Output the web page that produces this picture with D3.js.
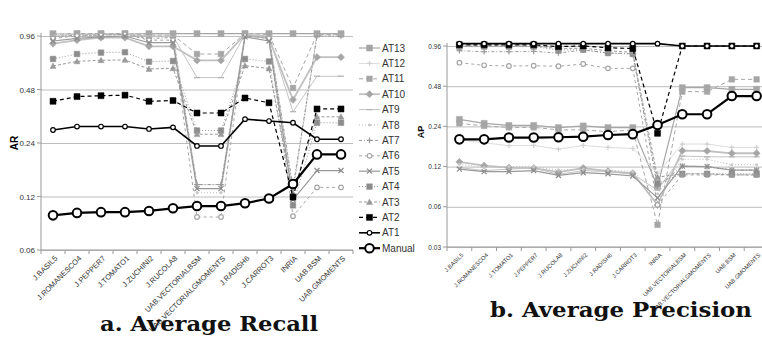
<!DOCTYPE html>
<html>
<head>
<meta charset="utf-8">
<script src="https://cdn.jsdelivr.net/npm/d3@7"></script>
<style>
  body { margin: 0; background: #fff; }
  svg { display: block; }
  text { font-family: "Liberation Sans", Arial, sans-serif; }
</style>
</head>
<body>
<svg id="chart" width="762" height="358"></svg>
<script>
// categories (the two panels use a different order)
const recallCats = ['J.BASIL5', 'J.ROMANESCO4', 'J.PEPPER7', 'J.TOMATO1', 'J.ZUCHINI2', 'J.RUCOLA8',
  'UAB.VECTORIALBSM', 'UAB.VECTORIALGMOMENTS', 'J.RADISH6', 'J.CARROT3', 'INRIA', 'UAB.BSM', 'UAB.GMOMENTS'];
const precisionCats = ['J.BASIL5', 'J.ROMANESCO4', 'J.TOMATO1', 'J.PEPPER7', 'J.RUCOLA8', 'J.ZUCHINI2',
  'J.RADISH6', 'J.CARROT3', 'INRIA', 'UAB.VECTORIALBSM', 'UAB.VECTORIALGMOMENTS', 'UAB.BSM', 'UAB.GMOMENTS'];

const seriesNames = ['AT13', 'AT12', 'AT11', 'AT10', 'AT9', 'AT8', 'AT7', 'AT6', 'AT5', 'AT4', 'AT3', 'AT2', 'AT1', 'Manual'];

const recallTicks = [0.06, 0.12, 0.24, 0.48, 0.96];
const precisionTicks = [0.03, 0.06, 0.12, 0.24, 0.48, 0.96];

// a. Average Recall
const arAT13 = [0.99, 0.99, 0.99, 0.99, 0.99, 0.99, 0.99, 0.99, 0.99, 0.99, 0.99, 0.99, 0.99];
const arAT12 = [0.99, 0.99, 0.99, 0.99, 0.98, 0.98, 0.14, 0.14, 0.99, 0.98, 0.13, 0.98, 0.98];
const arAT11 = [0.98, 0.99, 0.99, 0.99, 0.97, 0.97, 0.76, 0.76, 0.99, 0.98, 0.49, 0.98, 0.98];
const arAT10 = [0.87, 0.91, 0.94, 0.94, 0.84, 0.84, 0.70, 0.70, 0.98, 0.93, 0.42, 0.73, 0.73];
const arAT9 = [0.97, 0.98, 0.98, 0.98, 0.96, 0.96, 0.56, 0.56, 0.98, 0.96, 0.36, 0.57, 0.57];
const arAT8 = [0.96, 0.97, 0.98, 0.98, 0.95, 0.95, 0.126, 0.126, 0.97, 0.95, 0.125, 0.97, 0.97];
const arAT7 = [0.95, 0.97, 0.97, 0.98, 0.93, 0.94, 0.14, 0.14, 0.96, 0.94, 0.135, 0.96, 0.96];
const arAT6 = [0.93, 0.96, 0.97, 0.98, 0.91, 0.91, 0.092, 0.092, 0.96, 0.93, 0.093, 0.135, 0.135];
const arAT5 = [0.90, 0.93, 0.95, 0.96, 0.88, 0.88, 0.133, 0.133, 0.95, 0.90, 0.115, 0.168, 0.168];
const arAT4 = [0.713, 0.76, 0.774, 0.778, 0.688, 0.694, 0.282, 0.282, 0.713, 0.69, 0.107, 0.312, 0.312];
const arAT3 = [0.651, 0.691, 0.701, 0.704, 0.626, 0.632, 0.269, 0.269, 0.654, 0.63, 0.125, 0.337, 0.337];
const arAT2 = [0.412, 0.438, 0.443, 0.446, 0.412, 0.416, 0.354, 0.354, 0.43, 0.404, 0.119, 0.373, 0.373];
const arAT1 = [0.284, 0.297, 0.297, 0.297, 0.288, 0.294, 0.231, 0.231, 0.327, 0.319, 0.312, 0.252, 0.252];
const arManual = [0.094, 0.097, 0.098, 0.098, 0.0995, 0.103, 0.106, 0.106, 0.11, 0.117, 0.141, 0.207, 0.207];

// b. Average Precision
const apAT13 = [0.271, 0.253, 0.244, 0.244, 0.235, 0.242, 0.235, 0.235, 0.085, 0.468, 0.468, 0.455, 0.455];
const apAT12 = [0.19, 0.181, 0.172, 0.173, 0.162, 0.173, 0.167, 0.164, 0.107, 0.177, 0.177, 0.167, 0.167];
const apAT11 = [0.253, 0.242, 0.236, 0.236, 0.226, 0.226, 0.219, 0.226, 0.044, 0.437, 0.437, 0.54, 0.54];
const apAT10 = [0.13, 0.122, 0.118, 0.117, 0.109, 0.117, 0.111, 0.107, 0.062, 0.158, 0.157, 0.151, 0.151];
const apAT9 = [0.118, 0.112, 0.115, 0.117, 0.105, 0.112, 0.11, 0.105, 0.08, 0.144, 0.142, 0.142, 0.142];
const apAT8 = [0.125, 0.118, 0.12, 0.12, 0.113, 0.115, 0.113, 0.11, 0.075, 0.136, 0.136, 0.124, 0.124];
const apAT7 = [0.885, 0.87, 0.87, 0.875, 0.85, 0.896, 0.85, 0.84, 0.085, 0.121, 0.12, 0.113, 0.113];
const apAT6 = [0.72, 0.688, 0.68, 0.683, 0.677, 0.704, 0.653, 0.653, 0.062, 0.104, 0.104, 0.104, 0.104];
const apAT5 = [0.115, 0.11, 0.11, 0.112, 0.103, 0.108, 0.106, 0.102, 0.07, 0.121, 0.12, 0.113, 0.113];
const apAT4 = [0.95, 0.95, 0.95, 0.95, 0.896, 0.90, 0.85, 0.836, 0.09, 0.106, 0.106, 0.106, 0.106];
const apAT3 = [0.96, 0.96, 0.96, 0.96, 0.92, 0.923, 0.885, 0.86, 0.10, 0.106, 0.106, 0.104, 0.104];
const apAT2 = [0.98, 0.98, 0.98, 0.98, 0.95, 0.96, 0.93, 0.92, 0.213, 0.96, 0.96, 0.96, 0.96];
const apAT1 = [1.0, 1.0, 1.0, 1.0, 1.0, 1.0, 1.0, 1.0, 1.0, 0.96, 0.96, 0.96, 0.96];
const apManual = [0.192, 0.192, 0.198, 0.198, 0.199, 0.201, 0.207, 0.21, 0.246, 0.296, 0.296, 0.405, 0.405];

const recallValues = [arAT13, arAT12, arAT11, arAT10, arAT9, arAT8, arAT7, arAT6, arAT5, arAT4, arAT3, arAT2, arAT1, arManual];
const precisionValues = [apAT13, apAT12, apAT11, apAT10, apAT9, apAT8, apAT7, apAT6, apAT5, apAT4, apAT3, apAT2, apAT1, apManual];

// line / marker look of every series
const styles = {
  AT13: { stroke: '#a6a6a6', width: 1.2, dash: null, marker: 'square', mfill: '#a6a6a6', size: 3 },
  AT12: { stroke: '#dcdcdc', width: 1, dash: null, marker: 'plus', mfill: '#d0d0d0', size: 2.5 },
  AT11: { stroke: '#a6a6a6', width: 1, dash: '4,3', marker: 'square', mfill: '#a6a6a6', size: 2.8 },
  AT10: { stroke: '#c0c0c0', width: 1.8, dash: null, marker: 'diamond', mfill: '#a6a6a6', size: 3 },
  AT9: { stroke: '#c4c4c4', width: 1, dash: null, marker: 'dash', mfill: '#b0b0b0', size: 3 },
  AT8: { stroke: '#bdbdbd', width: 1, dash: '1,2', marker: 'dot', mfill: '#c8c8c8', size: 1.5 },
  AT7: { stroke: '#9a9a9a', width: 1, dash: '3,2,1,2', marker: 'plus', mfill: '#9a9a9a', size: 2.8 },
  AT6: { stroke: '#a6a6a6', width: 1, dash: '3,3', marker: 'ocircle', mfill: '#a6a6a6', size: 2.3 },
  AT5: { stroke: '#999999', width: 1.2, dash: null, marker: 'x', mfill: '#8c8c8c', size: 2.5 },
  AT4: { stroke: '#999999', width: 1, dash: '1,2', marker: 'square', mfill: '#8c8c8c', size: 2.8 },
  AT3: { stroke: '#999999', width: 1, dash: '3,2', marker: 'triangle', mfill: '#999999', size: 3 },
  AT2: { stroke: '#000000', width: 1.2, dash: '4,3', marker: 'square', mfill: '#000000', size: 3 },
  AT1: { stroke: '#000000', width: 1.6, dash: null, marker: 'ocircle', mfill: '#000000', size: 2.3 },
  Manual: { stroke: '#000000', width: 2.2, dash: null, marker: 'bigcircle', mfill: '#000000', size: 4.3 }
};

const svg = d3.select('#chart');

function markerPath(type, s) {
  if (type === 'square') return `M${-s},${-s}h${2 * s}v${2 * s}h${-2 * s}Z`;
  if (type === 'diamond') return `M0,${-s * 1.2}L${s * 1.2},0L0,${s * 1.2}L${-s * 1.2},0Z`;
  if (type === 'triangle') return `M0,${-s}L${s},${s * 0.8}L${-s},${s * 0.8}Z`;
  if (type === 'plus') return `M${-s},0H${s}M0,${-s}V${s}`;
  if (type === 'x') return `M${-s},${-s}L${s},${s}M${-s},${s}L${s},${-s}`;
  if (type === 'dash') return `M${-s},0H${s}`;
  return null;
}

function drawMarker(g, type, st, x, y) {
  if (type === 'ocircle' || type === 'bigcircle') {
    g.append('circle')
      .attr('cx', x)
      .attr('cy', y)
      .attr('r', st.size)
      .attr('fill', '#fff')
      .attr('stroke', st.mfill)
      .attr('stroke-width', type === 'bigcircle' ? 2 : 1.2);
  } else if (type === 'dot') {
    g.append('circle')
      .attr('cx', x)
      .attr('cy', y)
      .attr('r', st.size)
      .attr('fill', st.mfill);
  } else {
    const stroked = type === 'plus' || type === 'x' || type === 'dash';
    g.append('path')
      .attr('transform', `translate(${x},${y})`)
      .attr('d', markerPath(type, st.size))
      .attr('fill', stroked ? 'none' : st.mfill)
      .attr('stroke', st.mfill)
      .attr('stroke-width', stroked ? 1.2 : 0.5);
  }
}

function drawPanel(cfg) {
  const g = svg.append('g');
  const x = d3.scaleBand().domain(cfg.cats).range([cfg.left, cfg.right]);
  const y = d3.scaleLog().base(2).domain(cfg.domain).range([cfg.bottom, cfg.top]);
  const width = cfg.right - cfg.left;

  // gridlines + y tick labels
  const yAxis = g.append('g')
    .attr('transform', `translate(${cfg.left},0)`)
    .call(d3.axisLeft(y).tickValues(cfg.ticks).tickSize(-width).tickPadding(6).tickFormat(d3.format('.2f')));
  yAxis.select('.domain').remove();
  yAxis.selectAll('line').attr('stroke', '#bdbdbd').attr('stroke-width', 1);
  yAxis.selectAll('text').attr('fill', '#333').style('font-size', cfg.tickFont + 'px');
  g.selectAll('.ytick')
    .data(cfg.ticks)
    .enter()
    .append('line')
    .attr('x1', cfg.left - 4)
    .attr('x2', cfg.left)
    .attr('y1', (d) => y(d))
    .attr('y2', (d) => y(d))
    .attr('stroke', '#999');

  // axis lines
  g.append('line')
    .attr('x1', cfg.left).attr('x2', cfg.left)
    .attr('y1', cfg.top - 3).attr('y2', cfg.bottom)
    .attr('stroke', '#999');
  g.append('line')
    .attr('x1', cfg.left).attr('x2', cfg.right)
    .attr('y1', cfg.bottom).attr('y2', cfg.bottom)
    .attr('stroke', '#999');

  // category boundary ticks
  const edges = cfg.cats.map((c) => x(c)).concat([cfg.right]);
  g.selectAll('.xtick')
    .data(edges)
    .enter()
    .append('line')
    .attr('x1', (d) => d).attr('x2', (d) => d)
    .attr('y1', cfg.bottom).attr('y2', cfg.bottom + 4)
    .attr('stroke', '#999');

  // rotated category labels
  g.selectAll('.xlab')
    .data(cfg.cats)
    .enter()
    .append('text')
    .attr('transform', (d) => `translate(${x(d) + x.bandwidth() / 2 + 3},${cfg.bottom + 7}) rotate(-45)`)
    .attr('text-anchor', 'end')
    .attr('dy', '0.35em')
    .attr('fill', '#333')
    .style('font-size', cfg.labelFont + 'px')
    .text((d) => d);

  // y title
  g.append('text')
    .attr('transform', `translate(${cfg.titleX},${cfg.titleY}) rotate(-90)`)
    .attr('text-anchor', 'middle')
    .attr('font-weight', 'bold')
    .style('font-size', cfg.titleFont + 'px')
    .text(cfg.yTitle);

  // series, AT13 first so Manual ends on top
  seriesNames.forEach((name, i) => {
    const st = styles[name];
    const vals = cfg.values[i];
    const line = d3.line()
      .x((d, j) => x(cfg.cats[j]) + x.bandwidth() / 2)
      .y((d) => y(d));
    g.append('path')
      .datum(vals)
      .attr('d', line)
      .attr('fill', 'none')
      .attr('stroke', st.stroke)
      .attr('stroke-width', st.width)
      .attr('stroke-dasharray', st.dash);
    vals.forEach((v, j) => {
      drawMarker(g, st.marker, st, x(cfg.cats[j]) + x.bandwidth() / 2, y(v));
    });
  });

  // panel caption, stretched to the width it has in the paper
  svg.append('text')
    .attr('x', cfg.capX)
    .attr('y', cfg.capY)
    .attr('textLength', cfg.capW)
    .attr('lengthAdjust', 'spacingAndGlyphs')
    .attr('font-weight', 'bold')
    .attr('fill', '#111')
    .style('font-family', '"DejaVu Serif", "Liberation Serif", serif')
    .style('font-size', '20px')
    .text(cfg.caption);
}

drawPanel({
  cats: recallCats, values: recallValues, ticks: recallTicks, domain: [0.06, 0.96],
  left: 41, right: 353, top: 36, bottom: 250,
  tickFont: 8, labelFont: 7.5, titleFont: 10, yTitle: 'AR', titleX: 18, titleY: 143,
  caption: 'a.  Average Recall', capX: 100, capY: 331, capW: 218
});

drawPanel({
  cats: precisionCats, values: precisionValues, ticks: precisionTicks, domain: [0.03, 0.96],
  left: 447, right: 769, top: 46, bottom: 247,
  tickFont: 6.5, labelFont: 5.8, titleFont: 9, yTitle: 'AP', titleX: 424, titleY: 132,
  caption: 'b.  Average Precision', capX: 490, capY: 317, capW: 262
});

// legend
const legend = svg.append('g');
seriesNames.forEach((name, i) => {
  const st = styles[name];
  const ly = 48 + i * 15.4;
  legend.append('line')
    .attr('x1', 359).attr('x2', 380)
    .attr('y1', ly).attr('y2', ly)
    .attr('stroke', st.stroke)
    .attr('stroke-width', st.width)
    .attr('stroke-dasharray', st.dash);
  drawMarker(legend, st.marker, st, 369.5, ly);
  legend.append('text')
    .attr('x', 382)
    .attr('y', ly)
    .attr('dy', '0.35em')
    .attr('fill', '#333')
    .style('font-size', '10px')
    .text(name);
});
</script>
</body>
</html>
